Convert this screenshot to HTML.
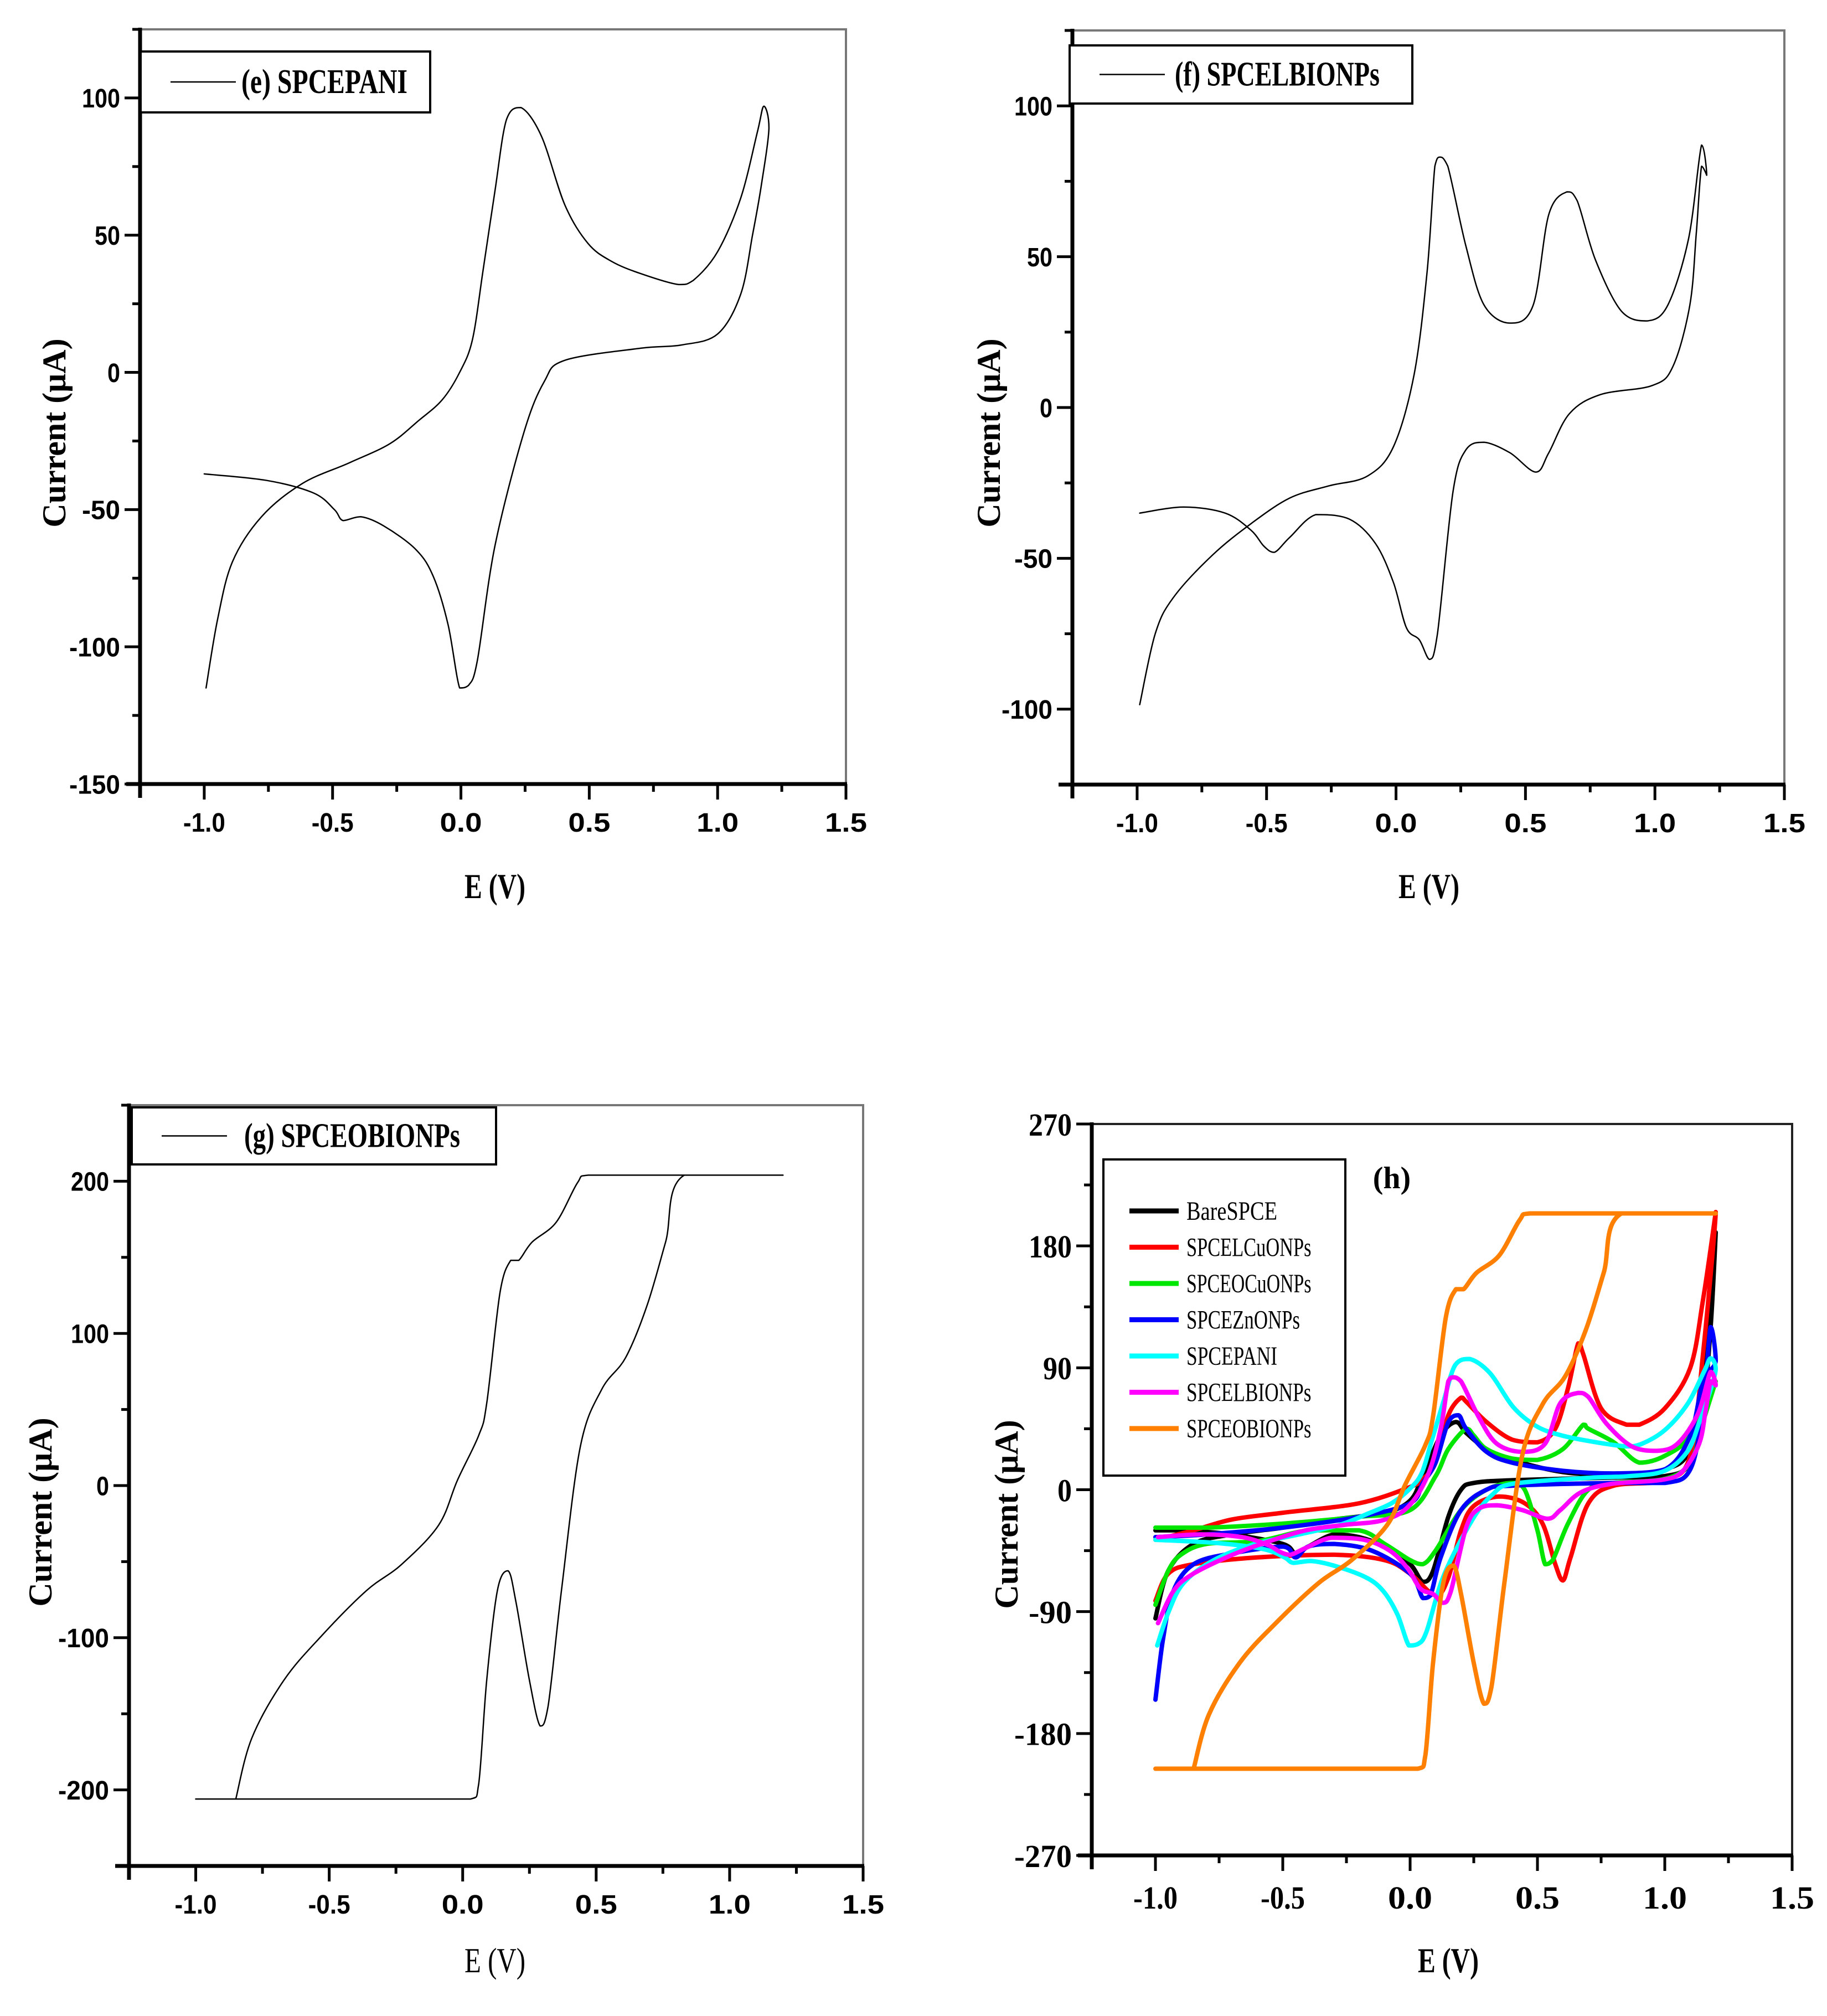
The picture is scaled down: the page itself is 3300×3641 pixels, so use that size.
<!DOCTYPE html>
<html><head><meta charset="utf-8"><style>
html,body{margin:0;padding:0;background:#fff;}
svg{display:block;}
</style></head><body>
<svg id="fig" width="3300" height="3641" viewBox="0 0 3300 3641" xmlns="http://www.w3.org/2000/svg"></svg>
<script>
// ---- data (E in V, I in µA) ----
const ePaniE=[-1,-0.755,-0.573,-0.493,-0.459,-0.39,-0.3,-0.175,-0.107,-0.05,-0.005,0.03,0.064,0.132,0.245,0.325,0.405,0.7,0.86,1.0,1.09,1.136,1.17,1.2,1.18,1.155,1.09,1.0,0.905,0.848,0.7,0.586,0.495,0.405,0.314,0.234,0.177,0.132,0.086,0.045,-0.005,-0.073,-0.164,-0.277,-0.436,-0.618,-0.777,-0.89,-0.948,-0.993];
const ePaniI=[-37,-39.4,-44,-50,-54,-52.6,-56,-64.6,-74.5,-92,-115,-114,-105,-63.5,-22,-3.3,4.4,8.8,10,14,28.5,50,68,89,97,87.6,63.5,44,33.5,32,36,40.5,47,61,86,96.5,92,65.7,37,12,0,-10,-17.5,-26,-33,-40.5,-52.6,-69,-90,-115];
const fLbE=[-0.99,-0.82,-0.66,-0.56,-0.51,-0.47,-0.41,-0.31,-0.18,-0.08,-0.01,0.04,0.09,0.13,0.16,0.22,0.27,0.34,0.44,0.54,0.59,0.67,0.79,0.99,1.07,1.135,1.16,1.18,1.2,1.18,1.13,1.05,0.97,0.87,0.77,0.7,0.66,0.59,0.53,0.44,0.34,0.27,0.2,0.17,0.15,0.12,0.07,-0.01,-0.11,-0.26,-0.41,-0.56,-0.71,-0.86,-0.93,-0.99];
const fLbI=[-35,-33,-35,-40.7,-46,-48,-43,-35.5,-37,-45,-58,-73,-77,-83.5,-75,-28,-14,-11.5,-15,-21.4,-15,-2,4.3,7.3,13.7,34,58,80,77,87,56,34,28.7,32,49,68.5,71.5,64,34,28,34,53.5,80,83,80,45,11,-13,-22.7,-26,-30,-38.5,-49,-63,-75,-98.5];
const gObE=[-1,0.03,0.06,0.09,0.13,0.17,0.2,0.25,0.29,0.32,0.37,0.44,0.52,0.61,0.69,0.76,0.83,1.2,0.47,0.43,0.35,0.26,0.21,0.18,0.14,0.09,0.06,-0.02,-0.09,-0.23,-0.36,-0.53,-0.67,-0.79,-0.85];
const gObI=[-206,-206,-196,-128,-69,-56,-77,-128,-158,-145,-69,25,63,84,118,160,204,204,204,199,173,160,148,148,127,54,33,3.4,-26,-52,-69,-99,-128,-166,-206];
const hBareE=[-1,-0.9,-0.7,-0.5,-0.45,-0.4,-0.3,-0.2,-0.1,0,0.05,0.09,0.15,0.2,0.25,0.4,0.8,1.0,1.1,1.15,1.18,1.2,1.15,1.1,1.0,0.8,0.6,0.4,0.3,0.22,0.18,0.12,0.05,0,-0.1,-0.3,-0.5,-0.7,-0.85,-0.95,-1];
const hBareI=[-30,-30,-33,-40,-47,-42,-33,-35,-42,-55,-68,-60,-20,0,5,7,9,10,20,60,120,190,80,30,15,11,13,22,30,42,50,40,10,-8,-17,-22,-28,-33,-40,-60,-95];
const hLcuE=[-1,-0.95,-0.85,-0.6,-0.3,-0.1,0,0.1,0.15,0.2,0.25,0.35,0.45,0.52,0.57,0.6,0.63,0.7,0.8,1.0,1.1,1.15,1.2,1.15,1.1,1.0,0.9,0.85,0.75,0.68,0.66,0.62,0.57,0.5,0.4,0.3,0.22,0.2,0.15,0.1,0.05,0,-0.2,-0.5,-0.7,-0.85,-1];
const hLcuI=[-82,-62,-55,-50,-48,-52,-62,-78,-65,-30,-12,-5,-10,-25,-55,-67,-50,-10,3,7,25,100,205,140,90,60,48,48,60,100,108,75,45,35,37,50,65,68,55,20,8,2,-10,-17,-22,-30,-37];
const hOcuE=[-1,-0.95,-0.9,-0.8,-0.6,-0.4,-0.2,-0.1,0,0.05,0.1,0.2,0.3,0.4,0.45,0.5,0.53,0.56,0.62,0.7,0.8,1.0,1.1,1.15,1.2,1.1,1.0,0.9,0.8,0.7,0.68,0.6,0.5,0.4,0.3,0.25,0.22,0.15,0.1,0,-0.2,-0.5,-0.8,-1];
const hOcuI=[-85,-60,-48,-40,-38,-30,-30,-40,-52,-55,-45,-15,0,5,0,-30,-55,-52,-25,0,5,8,20,50,80,40,25,20,35,45,48,30,22,23,30,40,45,30,10,-15,-20,-25,-28,-28];
const hZnE=[-1,-0.97,-0.93,-0.85,-0.7,-0.5,-0.45,-0.4,-0.3,-0.15,0,0.05,0.08,0.12,0.2,0.3,0.4,0.8,1.0,1.1,1.15,1.18,1.2,1.15,1.1,1.0,0.8,0.6,0.4,0.3,0.22,0.19,0.15,0.1,0.05,0,-0.2,-0.5,-0.8,-1];
const hZnI=[-155,-110,-75,-55,-47,-42,-50,-42,-40,-45,-62,-80,-78,-50,-15,0,3,5,5,15,60,120,95,80,40,15,12,14,20,28,45,55,50,20,5,-10,-20,-28,-33,-35];

const NS='http://www.w3.org/2000/svg';
const svg=document.getElementById('fig');
function mk(tag,attrs,parent){const el=document.createElementNS(NS,tag);for(const k in attrs)el.setAttribute(k,attrs[k]);(parent||svg).appendChild(el);return el;}
function txt(s,attrs,parent){const t=mk('text',attrs,parent);t.textContent=s;return t;}
function clamp(v,a,b){const lo=Math.min(a,b),hi=Math.max(a,b);return Math.max(lo,Math.min(hi,v));}
function smoothPath(pts){
  let d='M'+pts[0][0].toFixed(1)+','+pts[0][1].toFixed(1);
  for(let i=0;i<pts.length-1;i++){
    const p0=pts[Math.max(i-1,0)],p1=pts[i],p2=pts[i+1],p3=pts[Math.min(i+2,pts.length-1)];
    let c1=[p1[0]+(p2[0]-p0[0])/6,p1[1]+(p2[1]-p0[1])/6];
    let c2=[p2[0]-(p3[0]-p1[0])/6,p2[1]-(p3[1]-p1[1])/6];
    c1=[clamp(c1[0],p1[0],p2[0]),clamp(c1[1],p1[1],p2[1])];
    c2=[clamp(c2[0],p1[0],p2[0]),clamp(c2[1],p1[1],p2[1])];
    d+=' C'+c1[0].toFixed(1)+','+c1[1].toFixed(1)+' '+c2[0].toFixed(1)+','+c2[1].toFixed(1)+' '+p2[0].toFixed(1)+','+p2[1].toFixed(1);
  }
  return d;
}
function panel(cfg){
  const g=mk('g',{});
  
  
  const X=v=>cfg.x0+(v-cfg.xmin)/(cfg.xmax-cfg.xmin)*(cfg.x1-cfg.x0);
  const Y=v=>cfg.yb-(v-cfg.ymin)/(cfg.ymax-cfg.ymin)*(cfg.yb-cfg.yt);
  const tr=mk('path',{d:`M${cfg.x0},${cfg.yt} H${cfg.x1} V${cfg.yb}`,fill:'none',stroke:cfg.frameColor,'stroke-width':4},g);
  
  
  const xa=mk('line',{x1:cfg.x0-25,y1:cfg.yb,x2:cfg.x1+2,y2:cfg.yb,stroke:'#000','stroke-width':7},g);
  
  
  const ya=mk('line',{x1:cfg.x0,y1:cfg.yb+25,x2:cfg.x0,y2:cfg.yt-3,stroke:'#000','stroke-width':7},g);
  
  
  for(let v=-1.25;v<=1.5001;v+=0.25){
    const major=Math.abs(Math.round(v*2)-v*2)<1e-6;
    mk('line',{x1:X(v),y1:cfg.yb,x2:X(v),y2:cfg.yb+(major?28:14),stroke:'#000','stroke-width':5},g);
  }
  xTicks.forEach(v=>{
    const t=txt(v.toFixed(1),{x:X(v),y:cfg.yb+cfg.xlabOff,'text-anchor':'middle','font-family':cfg.tickFont,'font-weight':'bold','font-size':cfg.tickSize,textLength:cfg.xTickLen,lengthAdjust:'spacingAndGlyphs'},g);
    
    
  });
  for(let v=cfg.ymin;v<=cfg.ymax+1e-6;v+=cfg.yminor){
    const major=cfg.yTicks.includes(v);
    mk('line',{x1:cfg.x0,y1:Y(v),x2:cfg.x0-(major?28:14),y2:Y(v),stroke:'#000','stroke-width':5},g);
  }
  cfg.yTicks.forEach(v=>{
    const s=String(v);
    const t=txt(s,{x:cfg.x0-36,y:Y(v)+cfg.tickSize*0.36,'text-anchor':'end','font-family':cfg.tickFont,'font-weight':'bold','font-size':cfg.tickSize,textLength:s.length*cfg.yCharW,lengthAdjust:'spacingAndGlyphs'},g);
    
    
  });
  const xt=txt('E (V)',{x:cfg.xtx,y:cfg.xty,'text-anchor':'middle','font-family':'"Liberation Serif",serif','font-weight':cfg.xtWeight,'font-size':64,textLength:110,lengthAdjust:'spacingAndGlyphs'},g);
  
  
  const yt=txt('Current (μA)',{x:0,y:0,'text-anchor':'middle','font-family':'"Liberation Serif",serif','font-weight':'bold','font-size':60,transform:`translate(${cfg.ytx},${cfg.yty}) rotate(-90)`},g);
  
  
  cfg.series.forEach(s=>{
    const pts=s.E.map((e,i)=>[X(e),Y(s.I[i])]);
    const p=mk('path',{d:smoothPath(pts),fill:'none',stroke:s.color,'stroke-width':s.w,'stroke-linejoin':'round','stroke-linecap':'round'},g);
    
    
  });
  return g;
}
const xTicks=[-1.0,-0.5,0.0,0.5,1.0,1.5];
const sansB='"Liberation Sans",sans-serif';
const serif='"Liberation Serif",serif';

panel({name:'panel-e',x0:253,x1:1528,xmin:-1.25,xmax:1.5,yt:53,yb:1416,ymin:-150,ymax:125,yminor:25,yTicks:[-150,-100,-50,0,50,100],
  frameColor:'#777',tickFont:sansB,tickSize:48,xTickLen:76,yCharW:23,xlabOff:86,xtx:894,xty:1622,xtWeight:'bold',ytx:118,yty:782,
  series:[{name:'spcepani-curve',E:ePaniE,I:ePaniI,color:'#000',w:2.5}]});
panel({name:'panel-f',x0:1937,x1:3223,xmin:-1.25,xmax:1.5,yt:55,yb:1417,ymin:-125,ymax:125,yminor:25,yTicks:[-100,-50,0,50,100],
  frameColor:'#777',tickFont:sansB,tickSize:48,xTickLen:76,yCharW:23,xlabOff:86,xtx:2581,xty:1622,xtWeight:'bold',ytx:1806,yty:782,
  series:[{name:'spcelbionps-curve',E:fLbE,I:fLbI,color:'#000',w:2.5}]});
panel({name:'panel-g',x0:233,x1:1559,xmin:-1.25,xmax:1.5,yt:1996,yb:3370,ymin:-250,ymax:250,yminor:50,yTicks:[-200,-100,0,100,200],
  frameColor:'#777',tickFont:sansB,tickSize:48,xTickLen:76,yCharW:23,xlabOff:86,xtx:894,xty:3562,xtWeight:'normal',ytx:93,yty:2731,
  series:[{name:'spceobionps-curve',E:gObE,I:gObI,color:'#000',w:2.5}]});
panel({name:'panel-h',x0:1972,x1:3237,xmin:-1.25,xmax:1.5,yt:2030,yb:3351,ymin:-270,ymax:270,yminor:45,yTicks:[-270,-180,-90,0,90,180,270],
  frameColor:'#222',tickFont:serif,tickSize:58,xTickLen:80,yCharW:26,xlabOff:96,xtx:2616,xty:3562,xtWeight:'bold',ytx:1838,yty:2735,
  series:[
   {name:'bare-spce-line',E:hBareE,I:hBareI,color:'#000000',w:8},
   {name:'spcelcuonps-line',E:hLcuE,I:hLcuI,color:'#ff0000',w:8},
   {name:'spceocuonps-line',E:hOcuE,I:hOcuI,color:'#00e600',w:8},
   {name:'spceznonps-line',E:hZnE,I:hZnI,color:'#0000ff',w:8},
   {name:'spcepani-line',E:ePaniE,I:ePaniI,color:'#00ffff',w:8},
   {name:'spcelbionps-line',E:fLbE,I:fLbI,color:'#ff00ff',w:8},
   {name:'spceobionps-line',E:gObE,I:gObI,color:'#ff8000',w:8}
  ]});

function legendBox(name,x,y,w,h,label,tx,tl){
  const g=mk('g',{});
  
  
  mk('rect',{x:x,y:y,width:w,height:h,fill:'#fff',stroke:'#000','stroke-width':4},g);
  mk('line',{x1:x+54,y1:y+h/2,x2:x+172,y2:y+h/2,stroke:'#000','stroke-width':2.5},g);
  const t=txt(label,{x:tx,y:y+h/2+20,'font-family':serif,'font-weight':'bold','font-size':62,textLength:tl,lengthAdjust:'spacingAndGlyphs'},g);
  
  
}
legendBox('legend-e',254,93,523,110,'(e) SPCEPANI',436,300);
legendBox('legend-f',1932,82,619,105,'(f) SPCELBIONPs',2122,370);
legendBox('legend-g',238,2000,658,103,'(g) SPCEOBIONPs',441,390);

const hNames=['BareSPCE','SPCELCuONPs','SPCEOCuONPs','SPCEZnONPs','SPCEPANI','SPCELBIONPs','SPCEOBIONPs'];
const hColors=['#000000','#ff0000','#00e600','#0000ff','#00ffff','#ff00ff','#ff8000'];
const lg=mk('g',{});


mk('rect',{x:1993,y:2094,width:437,height:571,fill:'#fff',stroke:'#000','stroke-width':4},lg);
hNames.forEach((n,i)=>{
  const y=2187+i*65.5;
  mk('line',{x1:2040,y1:y,x2:2129,y2:y,stroke:hColors[i],'stroke-width':9},lg);
  const t=txt(n,{x:2143,y:y+16,'font-family':serif,'font-size':48,textLength:n.length*20.5,lengthAdjust:'spacingAndGlyphs'},lg);
  
  
});
const hl=txt('(h)',{x:2514,y:2146,'text-anchor':'middle','font-family':serif,'font-weight':'bold','font-size':56});


</script>
</body></html>
